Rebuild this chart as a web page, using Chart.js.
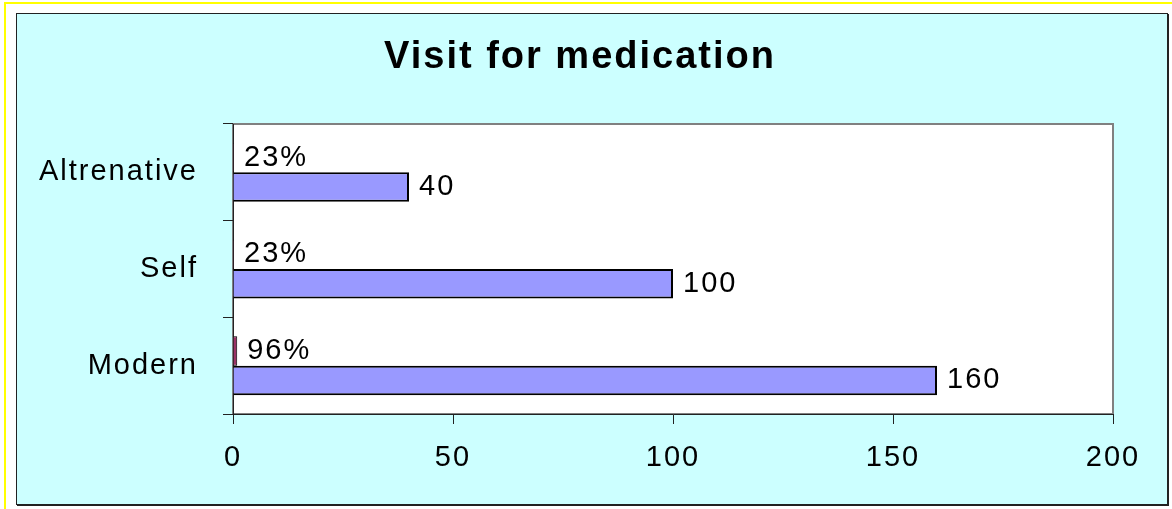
<!DOCTYPE html>
<html>
<head>
<meta charset="utf-8">
<title>Visit for medication</title>
<script src="https://cdn.jsdelivr.net/npm/chart.js@4.4.1/dist/chart.umd.min.js"></script>
<style>
  html, body { margin: 0; padding: 0; background: #ffffff; }
  canvas { display: block; }
</style>
</head>
<body>
<canvas id="chart" width="1172" height="509"></canvas>
<script>
// Categories, top to bottom
const categories = ['Altrenative', 'Self', 'Modern'];
// Share of respondents (fraction) and number of visits per category
const shareValues = [0.23, 0.23, 0.96];
const visitCounts = [40, 100, 160];
// Value axis ticks
const xTicks = [0, 50, 100, 150, 200];
const chartTitle = 'Visit for medication';

const FONT = "'Liberation Sans', Arial, Helvetica, sans-serif";
const labelFormats = [
  v => Math.round(v * 100) + '%',
  v => String(v)
];

// Page frame, cyan panel and white plot area
const framePlugin = {
  id: 'frame',
  afterLayout(chart) {
    // centre the title over the panel rather than over the full padded width
    const t = chart.titleBlock;
    if (t) {
      t.left = 47;
      t.right = 1113;
      t.width = t.right - t.left;
    }
  },
  beforeDraw(chart) {
    const ctx = chart.ctx;
    const W = chart.width, H = chart.height;
    ctx.save();
    ctx.fillStyle = '#ffffff';
    ctx.fillRect(0, 0, W, H);
    ctx.fillStyle = '#ffff00';
    ctx.fillRect(4, 2, 2, H - 2);
    ctx.fillRect(4, 2, W - 4, 2);

    ctx.fillStyle = '#ccffff';
    ctx.fillRect(16, 13, 1152, 492);
    ctx.strokeStyle = '#222222';
    ctx.lineWidth = 1;
    ctx.strokeRect(16.5, 13.5, 1151, 491);
    ctx.fillStyle = '#222222';
    ctx.fillRect(1167, 14, 2, 492);
    ctx.fillRect(17, 504, 1152, 2);

    const a = chart.chartArea;
    ctx.fillStyle = '#ffffff';
    ctx.fillRect(a.left, a.top, a.right - a.left, a.bottom - a.top);
    ctx.strokeStyle = '#808080';
    ctx.lineWidth = 2;
    ctx.strokeRect(a.left, a.top, a.right - a.left, a.bottom - a.top);
    ctx.restore();
    ctx.letterSpacing = '2px';
  }
};

// Value labels just past the end of every bar
const valueLabels = {
  id: 'valueLabels',
  afterDatasetsDraw(chart) {
    const ctx = chart.ctx;
    ctx.save();
    ctx.font = '29px ' + FONT;
    ctx.letterSpacing = '2px';
    ctx.fillStyle = '#000000';
    ctx.textAlign = 'left';
    ctx.textBaseline = 'middle';
    chart.data.datasets.forEach((ds, i) => {
      const meta = chart.getDatasetMeta(i);
      meta.data.forEach((bar, j) => {
        ctx.fillText(labelFormats[i](ds.data[j]), bar.x + 10, bar.y);
      });
    });
    ctx.restore();
  }
};

new Chart(document.getElementById('chart'), {
  type: 'bar',
  data: {
    labels: categories,
    datasets: [
      {
        label: 'Share',
        data: shareValues,
        backgroundColor: '#993366',
        borderColor: '#000000',
        borderWidth: 1,
        categoryPercentage: 0.61,
        barPercentage: 1
      },
      {
        label: 'Visits',
        data: visitCounts,
        backgroundColor: '#9999ff',
        borderColor: '#000000',
        borderWidth: 2,
        categoryPercentage: 0.61,
        barPercentage: 1
      }
    ]
  },
  options: {
    indexAxis: 'y',
    responsive: false,
    animation: false,
    devicePixelRatio: 1,
    layout: { padding: { left: 16, right: 59, top: 13, bottom: 4 } },
    plugins: {
      legend: { display: false },
      tooltip: { enabled: false },
      title: {
        display: true,
        text: chartTitle,
        color: '#000000',
        font: { family: FONT, size: 38, weight: 'bold', lineHeight: 1.2 },
        padding: { top: 21.7, bottom: 43.7 }
      }
    },
    scales: {
      x: {
        min: 0,
        max: 200,
        afterBuildTicks(scale) { scale.ticks = xTicks.map(v => ({ value: v })); },
        afterFit(scale) { scale.height = 91; },
        grid: { drawOnChartArea: false, drawTicks: true, tickLength: 10, color: '#222222' },
        border: { color: '#222222', width: 1 },
        ticks: { color: '#000000', font: { family: FONT, size: 29 }, padding: 17, maxRotation: 0 }
      },
      y: {
        afterFit(scale) { scale.width = 217; },
        grid: { drawOnChartArea: false, drawTicks: true, tickLength: 10, color: '#222222', offset: true },
        border: { color: '#222222', width: 1 },
        ticks: { color: '#000000', font: { family: FONT, size: 29 }, padding: 25 }
      }
    }
  },
  plugins: [framePlugin, valueLabels]
});
</script>
</body>
</html>
